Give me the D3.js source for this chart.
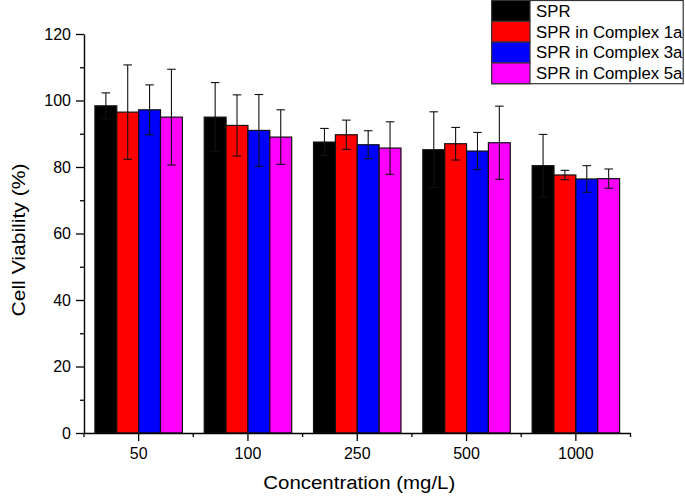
<!DOCTYPE html>
<html><head><meta charset="utf-8">
<script src="https://cdn.jsdelivr.net/npm/d3@7"></script>
<style>html,body{margin:0;padding:0;background:#fff;}svg{display:block;font-family:Arial,"Liberation Sans",sans-serif;}</style>
</head><body>
<svg id="chart" width="685" height="496"></svg>
<script>
const categories = ["50", "100", "250", "500", "1000"];
const seriesNames = ["SPR", "SPR in Complex 1a", "SPR in Complex 3a", "SPR in Complex 5a"];
const seriesColors = ["#000000", "#ff0000", "#0000ff", "#ff00ff"];
const sprValues = [98.4, 95.0, 87.5, 85.2, 80.4];
const sprErrors = [3.9, 10.4, 4.1, 11.4, 9.4];
const c1aValues = [96.5, 92.5, 89.7, 87.0, 77.6];
const c1aErrors = [14.2, 9.2, 4.4, 4.9, 1.4];
const c3aValues = [97.2, 91.0, 86.7, 84.8, 76.4];
const c3aErrors = [7.5, 10.8, 4.2, 5.6, 4.0];
const c5aValues = [95.0, 89.0, 85.7, 87.3, 76.5];
const c5aErrors = [14.4, 8.2, 7.9, 11.0, 2.9];
const yTicks = [0, 20, 40, 60, 80, 100, 120];
const yMinorTicks = [10, 30, 50, 70, 90, 110];

const values = [sprValues, c1aValues, c3aValues, c5aValues];
const errors = [sprErrors, c1aErrors, c3aErrors, c5aErrors];

const svg = d3.select("#chart");
const mLeft = 84, mRight = 630.5, mTop = 34, mBottom = 433;

const x0 = d3.scaleBand().domain(categories).range([mLeft, mRight]).paddingInner(0).paddingOuter(0);
const bw = x0.bandwidth();
const x1 = d3.scaleBand().domain(seriesNames).range([bw * 0.1, bw * 0.9]).padding(0);
const y = d3.scaleLinear().domain([0, 120]).range([mBottom, mTop]);

const data = [];
categories.forEach((c, i) => {
  seriesNames.forEach((s, j) => {
    data.push({cat: c, series: s, color: seriesColors[j], v: values[j][i], e: errors[j][i]});
  });
});

// bars
svg.append("g").selectAll("rect").data(data).join("rect")
  .attr("x", d => x0(d.cat) + x1(d.series))
  .attr("y", d => y(d.v))
  .attr("width", x1.bandwidth())
  .attr("height", d => y(0) - y(d.v))
  .attr("fill", d => d.color)
  .attr("stroke", "#111")
  .attr("stroke-width", 1.2);

// error bars
const eb = svg.append("g").attr("stroke", "#111").attr("stroke-width", 1.1).attr("fill", "none");
data.forEach(d => {
  const cx = x0(d.cat) + x1(d.series) + x1.bandwidth() / 2;
  eb.append("line").attr("x1", cx).attr("x2", cx).attr("y1", y(d.v + d.e)).attr("y2", y(d.v - d.e));
  eb.append("line").attr("x1", cx - 4.3).attr("x2", cx + 4.3).attr("y1", y(d.v + d.e)).attr("y2", y(d.v + d.e));
  eb.append("line").attr("x1", cx - 4.3).attr("x2", cx + 4.3).attr("y1", y(d.v - d.e)).attr("y2", y(d.v - d.e));
});

// Y axis
const yAxis = svg.append("g").attr("transform", `translate(${mLeft},0)`)
  .call(d3.axisLeft(y).tickValues(yTicks).tickSize(8).tickPadding(5).tickSizeOuter(0));
yAxis.select(".domain").attr("stroke", "#000").attr("stroke-width", 1.4);
yAxis.selectAll(".tick line").attr("stroke", "#000").attr("stroke-width", 1.3);
yAxis.selectAll(".tick text").attr("font-size", 16).attr("fill", "#000").attr("font-family", "Arial, 'Liberation Sans', sans-serif");
svg.append("g").attr("transform", `translate(${mLeft},0)`)
  .call(d3.axisLeft(y).tickValues(yMinorTicks).tickSize(4).tickFormat("").tickSizeOuter(0))
  .call(g => g.select(".domain").remove())
  .selectAll(".tick line").attr("stroke", "#000").attr("stroke-width", 1.3);

// X axis
const xAxis = svg.append("g").attr("transform", `translate(0,${mBottom})`)
  .call(d3.axisBottom(x0).tickSize(8).tickPadding(7).tickSizeOuter(0));
xAxis.select(".domain").attr("stroke", "#000").attr("stroke-width", 1.4);
xAxis.selectAll(".tick line").attr("stroke", "#000").attr("stroke-width", 1.3);
xAxis.selectAll(".tick text").attr("font-size", 16).attr("fill", "#000").attr("font-family", "Arial, 'Liberation Sans', sans-serif");
const minorX = d3.range(categories.length + 1).map(i => mLeft + i * bw);
const xm = svg.append("g").attr("stroke", "#000").attr("stroke-width", 1.3);
minorX.forEach(px => xm.append("line").attr("x1", px).attr("x2", px).attr("y1", mBottom).attr("y2", mBottom + 4));

// axis titles
svg.append("text").attr("x", (mLeft + mRight) / 2 + 2).attr("y", 489).attr("text-anchor", "middle")
  .attr("font-size", 18).attr("textLength", 192).attr("lengthAdjust", "spacingAndGlyphs")
  .text("Concentration (mg/L)");
svg.append("text").attr("transform", "translate(25,240) rotate(-90)").attr("text-anchor", "middle")
  .attr("font-size", 17.5).attr("textLength", 153).attr("lengthAdjust", "spacingAndGlyphs")
  .text("Cell Viability (%)");

// legend
const lg = svg.append("g");
const lx = 491.7, lw = 191.5, rowH = 20.8;
lg.append("rect").attr("x", lx).attr("y", 0.5).attr("width", lw).attr("height", rowH * 4).attr("fill", "#fff").attr("stroke", "#333").attr("stroke-width", 1.2);
seriesNames.forEach((s, j) => {
  lg.append("rect").attr("x", lx).attr("y", 0.5 + j * rowH).attr("width", 38.3).attr("height", rowH)
    .attr("fill", seriesColors[j]).attr("stroke", "#333").attr("stroke-width", 1.2);
  lg.append("text").attr("x", 536).attr("y", 16.7 + j * rowH).attr("font-size", 16.8).attr("fill", "#000").text(s);
});
</script>
</body></html>
